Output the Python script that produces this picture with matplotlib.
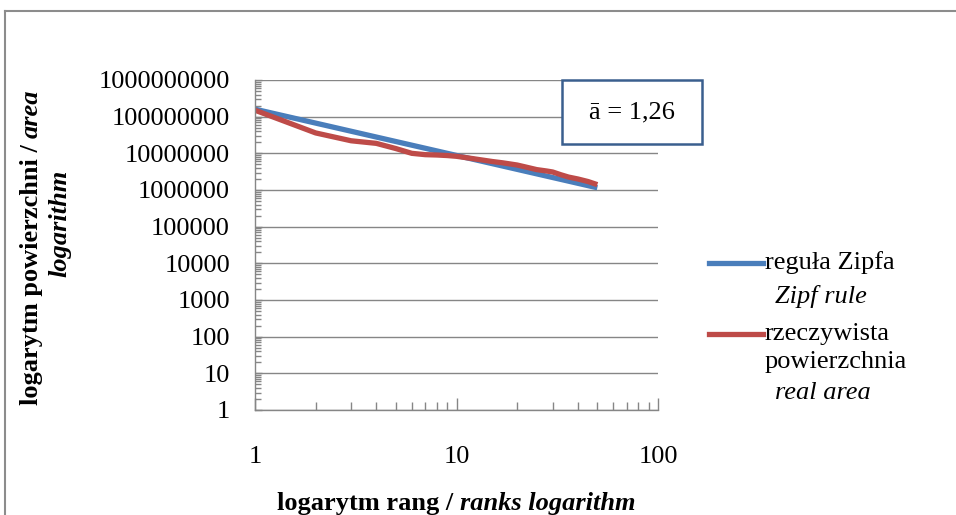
import numpy as np
import matplotlib
matplotlib.use('Agg')
import matplotlib.pyplot as plt
from matplotlib.lines import Line2D
from matplotlib.patches import Rectangle
from matplotlib.ticker import FixedLocator, FixedFormatter, NullFormatter

plt.rcParams['font.family'] = ['Liberation Serif', 'DejaVu Serif']

# Zipf rule (straight line on log-log, a = 1.26)
zipf_rank = [1, 50]
zipf_area = [1.6e8, 1.15e6]

# real area
real_rank = [1, 2, 3, 4, 5, 6, 7, 8, 9, 10, 12, 15, 17, 20, 22, 25, 28, 30, 33, 36, 40, 45, 50]
real_area = [1.5e8, 3.6e7, 2.2e7, 1.87e7, 1.35e7, 1.0e7, 9.2e6, 9.0e6, 8.7e6, 8.3e6,
             7.2e6, 6.0e6, 5.5e6, 4.8e6, 4.25e6, 3.6e6, 3.3e6, 3.1e6, 2.6e6, 2.25e6,
             2.0e6, 1.7e6, 1.4e6]

y_ticks = [1, 10, 100, 1000, 1e4, 1e5, 1e6, 1e7, 1e8, 1e9]
y_tick_labels = ['1', '10', '100', '1000', '10000', '100000', '1000000',
                 '10000000', '100000000', '1000000000']
x_ticks = [1, 10, 100]
x_tick_labels = ['1', '10', '100']

legend_main = [['reguła Zipfa'], ['rzeczywista', 'powierzchnia']]
legend_sub = ['Zipf rule', 'real area']
exponent_text = 'ā = 1,26'

W, H = 956, 515
BLUE = '#4A7EBB'
RED = '#BE4B48'
GRAY = '#868686'


def fx(px):
    return px / W


def fy(py):
    # pixel from top -> figure fraction
    return 1 - py / H


def minor_positions(lo_exp, hi_exp):
    return [m * 10.0 ** e for e in range(lo_exp, hi_exp) for m in range(2, 10)]


fig = plt.figure(figsize=(W / 100, H / 100), dpi=100)
renderer = fig.canvas.get_renderer()

ax = fig.add_axes([fx(255), fy(410), fx(658 - 255), (410 - 80) / H])
ax.set_xscale('log')
ax.set_yscale('log')
ax.plot(zipf_rank, zipf_area, color=BLUE, lw=3.8, solid_capstyle='butt')
ax.plot(real_rank, real_area, color=RED, lw=3.8, solid_capstyle='butt')
ax.set_xlim(1, 100)
ax.set_ylim(1, 1e9)

ax.yaxis.set_major_locator(FixedLocator(y_ticks))
ax.yaxis.set_major_formatter(FixedFormatter(y_tick_labels))
ax.yaxis.set_minor_locator(FixedLocator(minor_positions(0, 9)))
ax.yaxis.set_minor_formatter(NullFormatter())
ax.xaxis.set_major_locator(FixedLocator(x_ticks))
ax.xaxis.set_major_formatter(FixedFormatter(x_tick_labels))
ax.xaxis.set_minor_locator(FixedLocator(minor_positions(0, 2)))
ax.xaxis.set_minor_formatter(NullFormatter())

ax.grid(axis='y', which='major', color=GRAY, lw=1.0)
ax.set_axisbelow(True)
for s in ['top', 'right']:
    ax.spines[s].set_visible(False)
for s in ['left', 'bottom']:
    ax.spines[s].set_color(GRAY)
    ax.spines[s].set_linewidth(1.0)
ax.tick_params(which='both', direction='in', color=GRAY, width=1.0, labelsize=19)
ax.tick_params(axis='x', which='major', length=9, pad=26)
ax.tick_params(axis='x', which='minor', length=6)
ax.tick_params(axis='y', which='major', length=5, pad=18)
ax.tick_params(axis='y', which='minor', length=4)

# frame around the chart area
fig.add_artist(Line2D([fx(4.5), 1], [fy(10.5), fy(10.5)], color='#8c8c8c', lw=1.5))
fig.add_artist(Line2D([fx(4.5), fx(4.5)], [0, fy(10.5)], color='#8c8c8c', lw=1.5))

# exponent box
fig.add_artist(Rectangle((fx(562), fy(144)), fx(140), 64 / H, transform=fig.transFigure,
                         facecolor='white', edgecolor='#3A5F8E', lw=1.8))
fig.text(fx(632), fy(112), exponent_text, ha='center', va='center', fontsize=19)

# legend drawn by hand (second line of each entry in italic)
leg_line_y = [263, 334]
main_rows = [[263], [334, 362]]
sub_rows = [297, 393]
for color, ly, lines, rows, sub, sy in zip([BLUE, RED], leg_line_y, legend_main, main_rows,
                                           legend_sub, sub_rows):
    fig.add_artist(Line2D([fx(709), fx(763)], [fy(ly), fy(ly)], color=color, lw=3.8))
    for s, ry in zip(lines, rows):
        fig.text(fx(765), fy(ry), s, ha='left', va='center', fontsize=19)
    fig.text(fx(775), fy(sy), sub, ha='left', va='center', fontsize=19, style='italic')


def mixed_text(pieces, cx, base, rotation=0, size=19):
    # pieces: list of (text, style); laid out along the reading direction, centered on cx
    texts = []
    for s, style in pieces:
        t = fig.text(0, 0, s, fontsize=size, fontweight='bold', style=style,
                     rotation=rotation, rotation_mode='anchor', ha='left', va='baseline')
        texts.append(t)
    sizes = []
    for t in texts:
        bb = t.get_window_extent(renderer)
        sizes.append(bb.height if rotation else bb.width)
    cur = cx - sum(sizes) / 2
    for t, w in zip(texts, sizes):
        if rotation:
            t.set_position((base / W, cur / H))
        else:
            t.set_position((cur / W, base / H))
        cur += w


# x label
mixed_text([('logarytm rang / ', 'normal'), ('ranks logarithm', 'italic')],
           cx=456, base=H - 510, size=19)
# y label (two lines, rotated)
mixed_text([('logarytm powierzchni / ', 'normal'), ('area', 'italic')],
           cx=H - 247, base=38, rotation=90, size=19)
mixed_text([('logarithm', 'italic')], cx=H - 223, base=66, rotation=90, size=19)

fig.savefig('out.png', dpi=100)
